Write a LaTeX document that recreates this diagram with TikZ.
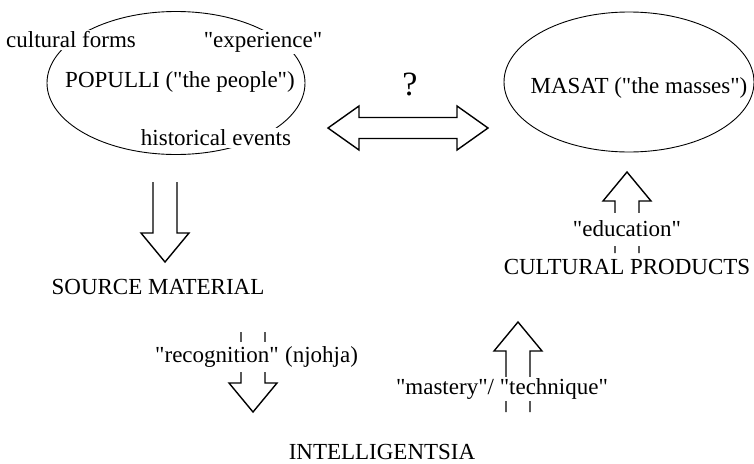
\documentclass[tikz,border=0pt]{standalone}
\usepackage{fontspec}
\setmainfont{LiberationSerif}[Extension=.ttf, UprightFont=*-Regular, Ligatures=TeXOff]
\usetikzlibrary{shapes.geometric,positioning}
\tikzset{
  lbl/.style={fill=white, inner sep=2pt},
  blob/.style={ellipse, draw, line width=0.9pt},
  pics/blockdown/.style={code={
    \draw (-12,-#1) -- (-12,-29) -- (-24,-29) -- (0,0) -- (24,-29) -- (12,-29) -- (12,-#1);
  }}
}
\begin{document}
\begin{tikzpicture}[x=1pt, y=-1pt, font=\fontsize{23}{27}\selectfont, line width=1.4pt]
\useasboundingbox (0,0) rectangle (754,463);
% the people
\node[blob, minimum width=258, minimum height=143] (pop) at (176,83){};
\node (popt) at (180,82){POPULLI ("the people")};
\node[lbl] (forms) at (71,40){cultural forms};
\node[lbl] (exper) at (263,42){"experience"};
\node[lbl] (hist) at (216,138){historical events};
% the masses
\node[blob, minimum width=250, minimum height=140] (mas) at (629,82){};
\node (mast) at (639,88){MASAT ("the masses")};
% between them
\node[font=\fontsize{34}{38}\selectfont] (q) at (410,84){?};
\coordinate (dl) at (328,128);
\coordinate (dr) at (488,128);
\draw (dl) -- ++(31,-22) -- ++(0,11.5) -- ++(98,0) -- ++(0,-11.5) -- (dr)
  -- ++(-31,22) -- ++(0,-11.5) -- ++(-98,0) -- ++(0,11.5) -- cycle;
% left side
\pic at (165,262){blockdown=80};
\node (src) at (158,287){SOURCE MATERIAL};
\pic at (253,412){blockdown=80};
\node[lbl, minimum height=30] (recog) at (217,357){"recognition"};
\node[lbl, right=1pt of recog] (njohja){(njohja)};
% right side
\pic[rotate=180] at (627,172){blockdown=81};
\node[lbl, minimum height=33] (edu) at (627,229){"education"};
\node (prod) at (627,267){CULTURAL PRODUCTS};
\pic[rotate=180] at (518,322){blockdown=90};
\node[lbl, minimum height=22] (mastery) at (502,389){"mastery"/ "technique"};
\node (intel) at (382,452){INTELLIGENTSIA};
\end{tikzpicture}
\end{document}
